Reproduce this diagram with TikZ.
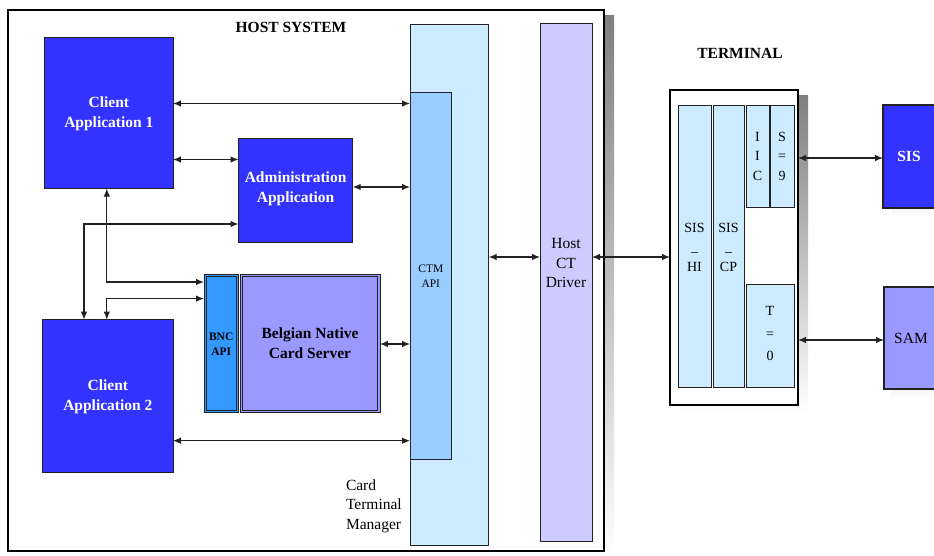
\documentclass[tikz,border=0pt]{standalone}
\usepackage{fontspec}
\setmainfont{Liberation Serif}
\newfontfamily\timesface{Liberation Serif}
\usetikzlibrary{arrows.meta,fit}

\definecolor{appblue}{HTML}{3333FF}
\definecolor{paleblue}{HTML}{CCEBFF}
\definecolor{apiblue}{HTML}{99CCFF}
\definecolor{lavender}{HTML}{CCCCFF}
\definecolor{violet}{HTML}{9999FF}
\definecolor{bncblue}{HTML}{3399FF}
\definecolor{shade}{HTML}{999999}
\definecolor{ink}{HTML}{222222}

\begin{document}
\begin{tikzpicture}[x=1pt,y=-1pt,
  every node/.style={inner sep=0pt,outer sep=0pt},
  blk/.style={draw=ink,line width=0.8pt,inner sep=0pt},
  frame/.style={draw=black,line width=2pt,inner sep=0pt},
  appbox/.style={blk,fill=appblue},
  apptext/.style={text=white,align=center,
    font=\timesface\fontsize{15.5}{20}\selectfont\bfseries},
  paletall/.style={blk,fill=paleblue},
  apibox/.style={blk,fill=apiblue},
  smalltext/.style={align=center,font=\timesface\fontsize{11.5}{14.5}\selectfont},
  drvbox/.style={blk,fill=lavender},
  twinbox/.style={draw=ink,line width=0.6pt},
  innerline/.style={draw=ink,line width=0.9pt},
  cell/.style={blk,fill=paleblue},
  celltext/.style={align=center,font=\timesface\fontsize{14}{19.5}\selectfont},
  plain/.style={font=\timesface\fontsize{15.5}{19.5}\selectfont},
  title/.style={font=\timesface\fontsize{15.5}{19}\selectfont\bfseries},
  biarrow/.style={draw=ink,line width=1.1pt,
    {Latex[length=8pt,width=6.5pt]}-{Latex[length=8pt,width=6.5pt]}}
]
\useasboundingbox (0,0) rectangle (934,556);

% drop shadows
\fill[shade] (604,16) rectangle (614,556);
\fill[shade] (678,96) rectangle (808,414);
\fill[shade] (892,110) rectangle (945,217);
\fill[shade] (891,292) rectangle (945,398);

% ---------------- host system ----------------
\node[frame,fill=white,fit={(8,10) (604,551)}] (host) {};
\node[title] (hosttitle) at (291,27) {HOST SYSTEM};

\node[paletall,fit={(410,24) (488.7,545.7)}] (ctm) {};
\node[apibox,fit={(410,92) (451.6,459)}] (ctmapi) {};
\node[smalltext] (ctmapitext) at ([yshift=-0.5pt]ctmapi.center) {CTM\\API};
\node[drvbox,fit={(540,23) (592,541)}] (hctd) {};
\node[plain,align=center] (hctdtext) at (566,263) {Host\\CT\\Driver};
\node[plain,align=left,anchor=west] (ctmtext) at (346,506) {Card\\Terminal\\Manager};

\node[appbox,fit={(44.7,37) (173,188.6)}] (ca1) {};
\node[apptext] (ca1text) at ([yshift=-0.5pt]ca1.center) {Client\\Application 1};
\node[appbox,fit={(238.5,138) (352.7,242)}] (admin) {};
\node[apptext] (admintext) at ([yshift=1pt]admin.center) {Administration\\Application};
\node[appbox,fit={(42.7,319.6) (173,472.5)}] (ca2) {};
\node[apptext] (ca2text) at ([yshift=-0.5pt]ca2.center) {Client\\Application 2};

\node[twinbox,fill=bncblue,fit={(204,274) (238.4,412.5)}] (bncapi) {};
\draw[innerline] ([shift={(2.2,2.2)}]bncapi.north west) rectangle ([shift={(-2.2,-2.2)}]bncapi.south east);
\node[smalltext,font=\timesface\fontsize{11.5}{14.5}\selectfont\bfseries] (bncapitext) at ([yshift=-1pt]bncapi.center) {BNC\\API};
\node[twinbox,fill=violet,fit={(240,274) (380,412.5)}] (bncs) {};
\draw[innerline] ([shift={(2.2,2.2)}]bncs.north west) rectangle ([shift={(-2.2,-2.2)}]bncs.south east);
\node[apptext,text=black] (bncstext) at (bncs.center) {Belgian Native\\Card Server};

% ---------------- terminal ----------------
\node[title] (termtitle) at (740,53) {TERMINAL};
\node[frame,fill=white,fit={(670,90) (798,405)}] (term) {};
\node[cell,fit={(678,105) (711,387)}] (sishi) {};
\node[celltext] (sishitext) at ([yshift=-1pt]sishi.center) {SIS\\\_\\HI};
\node[cell,fit={(713,105) (744,387)}] (siscp) {};
\node[celltext] (siscptext) at ([yshift=-1pt]siscp.center) {SIS\\\_\\CP};
\node[cell,fit={(746,105) (769,207)}] (iic) {};
\node[celltext] (iictext) at (iic.center) {I\\I\\C};
\node[cell,fit={(770,105) (794,207)}] (s9) {};
\node[celltext] (s9text) at (s9.center) {S\\=\\9};
\node[cell,fit={(746,284) (794,387)}] (t0) {};
\node[celltext,font=\timesface\fontsize{14}{22.5}\selectfont] (t0text) at ([yshift=2pt]t0.center) {T\\=\\0};

\node[blk,line width=1.6pt,fill=appblue,fit={(883,105) (950,208)}] (sis) {};
\node[text=white,title] (sistext) at (909,156) {SIS};
\node[blk,line width=1.6pt,fill=violet,fit={(884,287) (950,389)}] (sam) {};
\node[plain] (samtext) at (911,338) {SAM};

% ---------------- connectors ----------------
\coordinate (ya) at (0,103.5);
\coordinate (yb) at (0,159.5);
\coordinate (yc) at (0,187);
\coordinate (yd) at (0,344);
\coordinate (ye) at (0,440.7);
\coordinate (yf) at (0,257);
\coordinate (yg) at (0,158);
\coordinate (yh) at (0,340);
\coordinate (v1) at (106.8,282);
\coordinate (v2) at (84,224);
\coordinate (v3) at (106.8,298.6);

\draw[biarrow] (ca1.east |- ya) -- (ctmapi.west |- ya);
\draw[biarrow] (ca1.east |- yb) -- (admin.west |- yb);
\draw[biarrow] (admin.east |- yc) -- (ctmapi.west |- yc);
\draw[biarrow] (ca1.south -| v1) -- (v1) -- (bncapi.west |- v1);
\draw[biarrow] (admin.west |- v2) -- (v2) -- (ca2.north -| v2);
\draw[biarrow] (ca2.north -| v3) -- (v3) -- (bncapi.west |- v3);
\draw[biarrow] (bncs.east |- yd) -- (ctmapi.west |- yd);
\draw[biarrow] (ca2.east |- ye) -- (ctmapi.west |- ye);
\draw[biarrow] (ctm.east |- yf) -- (hctd.west |- yf);
\draw[biarrow] (hctd.east |- yf) -- (term.west |- yf);
\draw[biarrow] (term.east |- yg) -- (sis.west |- yg);
\draw[biarrow] (term.east |- yh) -- (sam.west |- yh);
\end{tikzpicture}
\end{document}
